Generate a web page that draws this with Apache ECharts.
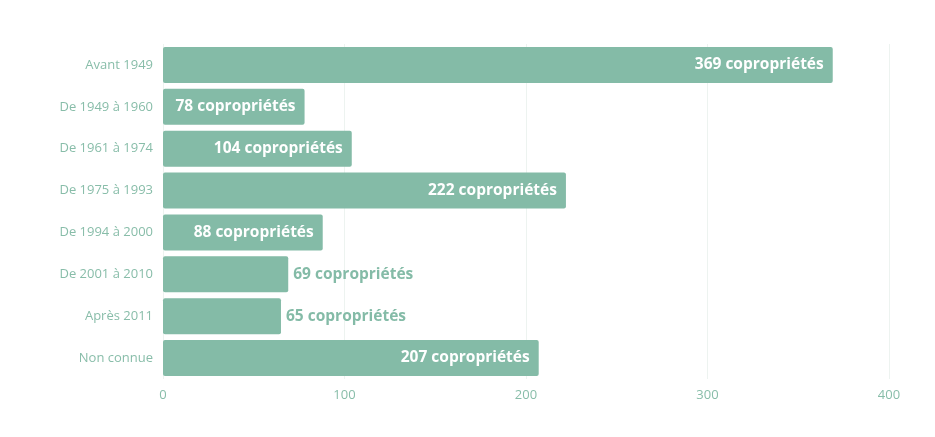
<!DOCTYPE html>
<html>
<head>
<meta charset="utf-8">
<script src="https://cdn.jsdelivr.net/npm/echarts@6/dist/echarts.min.js"></script>
<style>
  html, body { margin: 0; padding: 0; background: #fff; }
  #chart { width: 935px; height: 437px; }
</style>
</head>
<body>
<div id="chart"></div>
<script>
// catégories de haut en bas
const categories = ['Avant 1949', 'De 1949 à 1960', 'De 1961 à 1974', 'De 1975 à 1993', 'De 1994 à 2000', 'De 2001 à 2010', 'Après 2011', 'Non connue']
const values = [369, 78, 104, 222, 88, 69, 65, 207]
const xTicks = [0, 100, 200, 300, 400]
// en dessous de ce seuil l'étiquette passe à l'extérieur de la barre
const insideMin = 75

const green = '#84bba7'
const chart = echarts.init(document.getElementById('chart'))

const seriesData = values.map(v => {
  const inside = v >= insideMin
  return {
    value: v,
    label: inside
      ? { position: 'insideRight', distance: 9, color: '#ffffff' }
      : { position: 'right', distance: 5, color: green }
  }
})

chart.setOption({
  animation: false,
  grid: { left: 163, right: 46, top: 44, bottom: 58 },
  xAxis: {
    type: 'value',
    min: xTicks[0],
    max: xTicks[xTicks.length - 1],
    interval: 100,
    axisLine: { show: false },
    axisTick: { show: false },
    axisLabel: { color: '#88bda9', fontFamily: 'Open Sans', fontSize: 13, margin: 10 },
    splitLine: { lineStyle: { color: '#edf3f0', width: 1 } }
  },
  yAxis: {
    type: 'category',
    data: categories,
    inverse: true,
    axisLine: { show: false },
    axisTick: { show: false },
    axisLabel: { color: '#88bda9', fontFamily: 'Open Sans', fontSize: 13, margin: 10 }
  },
  series: [{
    type: 'bar',
    data: seriesData,
    barCategoryGap: '14%',
    itemStyle: { color: green, borderRadius: 2 },
    label: {
      show: true,
      fontFamily: 'Open Sans',
      fontWeight: 'bold',
      fontSize: 15.5,
      formatter: p => p.value + ' copropriétés'
    }
  }]
})
</script>
</body>
</html>
